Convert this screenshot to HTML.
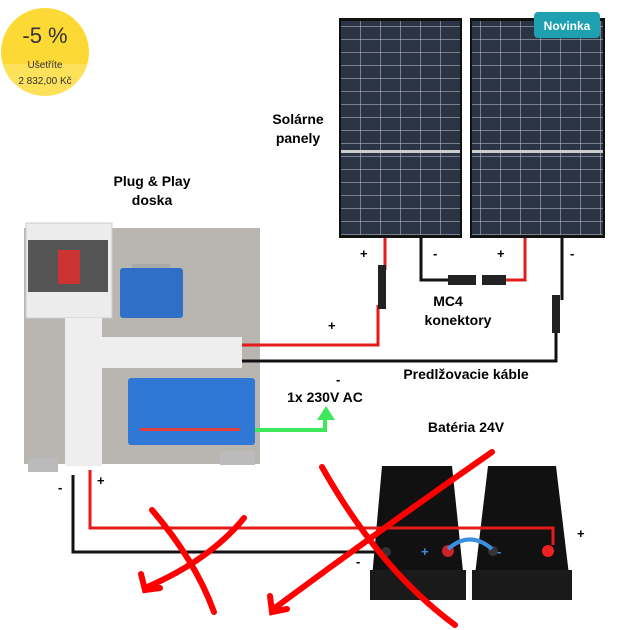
<!DOCTYPE html><html><head><style>body{margin:0;background:#fff}svg{display:block}text{font-family:"Liberation Sans",sans-serif}</style></head><body>
<svg width="619" height="630" viewBox="0 0 619 630" xmlns="http://www.w3.org/2000/svg">
<defs><pattern id="cells" width="20" height="13" patternUnits="userSpaceOnUse"><rect width="20" height="13" fill="#2a3444"/><path d="M0 0H20M0 0V13" stroke="#c9ccd2" stroke-width="1"/></pattern>
<clipPath id="bc"><circle cx="45" cy="52" r="44"/></clipPath></defs>
<!-- badge -->
<g clip-path="url(#bc)"><rect x="0" y="0" width="90" height="64" fill="#fcd934"/><rect x="0" y="64" width="90" height="40" fill="#fde15a"/></g>
<text x="45" y="43" font-size="22" text-anchor="middle" fill="#333">-5 %</text>
<text x="45" y="68" font-size="10" text-anchor="middle" fill="#333">Ušetříte</text>
<text x="45" y="84" font-size="10" text-anchor="middle" fill="#333">2 832,00 Kč</text>
<!-- panels -->
<rect x="339" y="18" width="123" height="220" fill="#111"/>
<rect x="341" y="21" width="119" height="129" fill="url(#cells)"/>
<rect x="341" y="153" width="119" height="82" fill="url(#cells)"/>
<rect x="341" y="150" width="119" height="3" fill="#ccc"/>
<rect x="470" y="18" width="135" height="220" fill="#111"/>
<rect x="472" y="21" width="131" height="129" fill="url(#cells)"/>
<rect x="472" y="153" width="131" height="82" fill="url(#cells)"/>
<rect x="472" y="150" width="131" height="3" fill="#ccc"/>
<rect x="534" y="12" width="66" height="26" rx="4" fill="#1ea0b0"/>
<text x="567" y="30" font-size="12" font-weight="bold" text-anchor="middle" fill="#fff">Novinka</text>
<text x="298" y="124" font-size="14" font-weight="bold" text-anchor="middle">Solárne</text>
<text x="298" y="143" font-size="14" font-weight="bold" text-anchor="middle">panely</text>
<text x="152" y="186" font-size="14" font-weight="bold" text-anchor="middle">Plug &amp; Play</text>
<text x="152" y="205" font-size="14" font-weight="bold" text-anchor="middle">doska</text>
<!-- board -->
<rect x="24" y="228" width="236" height="236" fill="#b9b6b1"/>
<rect x="132" y="264" width="38" height="20" fill="#aaa"/>
<rect x="26" y="223" width="86" height="95" fill="#ececec" stroke="#ccc"/>
<rect x="28" y="240" width="80" height="52" fill="#555"/>
<rect x="58" y="250" width="22" height="34" fill="#c33"/>
<rect x="65" y="318" width="37" height="148" fill="#eee"/>
<rect x="102" y="337" width="140" height="31" fill="#eee"/>
<rect x="120" y="268" width="63" height="50" rx="3" fill="#2f6fc8"/>
<rect x="128" y="378" width="127" height="67" rx="3" fill="#2f78d6"/>
<rect x="140" y="428" width="100" height="3" fill="#e04040"/>
<rect x="28" y="458" width="30" height="14" fill="#bbb"/>
<rect x="220" y="451" width="35" height="14" fill="#bbb"/>
<!-- batteries -->
<path d="M382 466H452L466 600H370Z" fill="#111"/>
<path d="M488 466H556L572 600H472Z" fill="#111"/>
<rect x="370" y="570" width="96" height="30" fill="#1a1a1a"/>
<rect x="472" y="570" width="100" height="30" fill="#1a1a1a"/>
<!-- wires -->
<g fill="none" stroke-width="3">
<path d="M242 345H378V305" stroke="#e31b1b"/>
<path d="M242 361H556V325" stroke="#111"/>
<path d="M385 238V270" stroke="#e31b1b"/>
<path d="M421 238V280H450" stroke="#111"/>
<path d="M525 238V280H500" stroke="#e31b1b"/>
<path d="M562 238V300" stroke="#111"/>
<path d="M90 470V528H553V545" stroke="#e31b1b"/>
<path d="M73 475V552H385" stroke="#111"/>
<path d="M255 430H325V418" stroke="#3ee85a" stroke-width="4"/>
</g>
<path d="M317 420L326 406L335 420Z" fill="#3ee85a"/>
<g fill="#222">
<rect x="378" y="265" width="8" height="44"/><rect x="448" y="275" width="28" height="10"/><rect x="482" y="275" width="24" height="10"/><rect x="552" y="295" width="8" height="38"/>
</g>
<text x="448" y="306" font-size="14" font-weight="bold" text-anchor="middle">MC4</text>
<text x="458" y="325" font-size="14" font-weight="bold" text-anchor="middle">konektory</text>
<text x="466" y="379" font-size="14" font-weight="bold" text-anchor="middle">Predlžovacie káble</text>
<text x="325" y="402" font-size="14" font-weight="bold" text-anchor="middle">1x 230V AC</text>
<text x="466" y="432" font-size="14" font-weight="bold" text-anchor="middle">Batéria 24V</text>
<g font-size="13" font-weight="bold">
<text x="360" y="258">+</text><text x="433" y="258">-</text><text x="497" y="258">+</text><text x="570" y="258">-</text>
<text x="328" y="330">+</text><text x="336" y="384">-</text><text x="58" y="492">-</text><text x="97" y="485">+</text><text x="577" y="538">+</text><text x="356" y="566">-</text>
</g>
<circle cx="386" cy="552" r="5" fill="#333"/><circle cx="448" cy="551" r="6" fill="#c22"/><circle cx="493" cy="551" r="5" fill="#333"/><circle cx="548" cy="551" r="6" fill="#e22"/>
<path d="M448 549Q470 530 492 549" fill="none" stroke="#3b8fe0" stroke-width="4"/>
<text x="421" y="556" font-size="13" fill="#3b8fe0" font-weight="bold">+</text><text x="497" y="556" font-size="13" fill="#3b8fe0" font-weight="bold">-</text>
<!-- red crosses -->
<g fill="none" stroke="#f00" stroke-width="6" stroke-linecap="round">
<path d="M152 510Q195 560 214 612"/>
<path d="M244 518Q210 560 145 588"/><path d="M141 574L145 590L160 588"/>
<path d="M492 452Q380 530 272 610"/><path d="M270 596L272 612L287 609"/>
<path d="M322 467Q380 570 455 625"/>
</g>
</svg></body></html>
